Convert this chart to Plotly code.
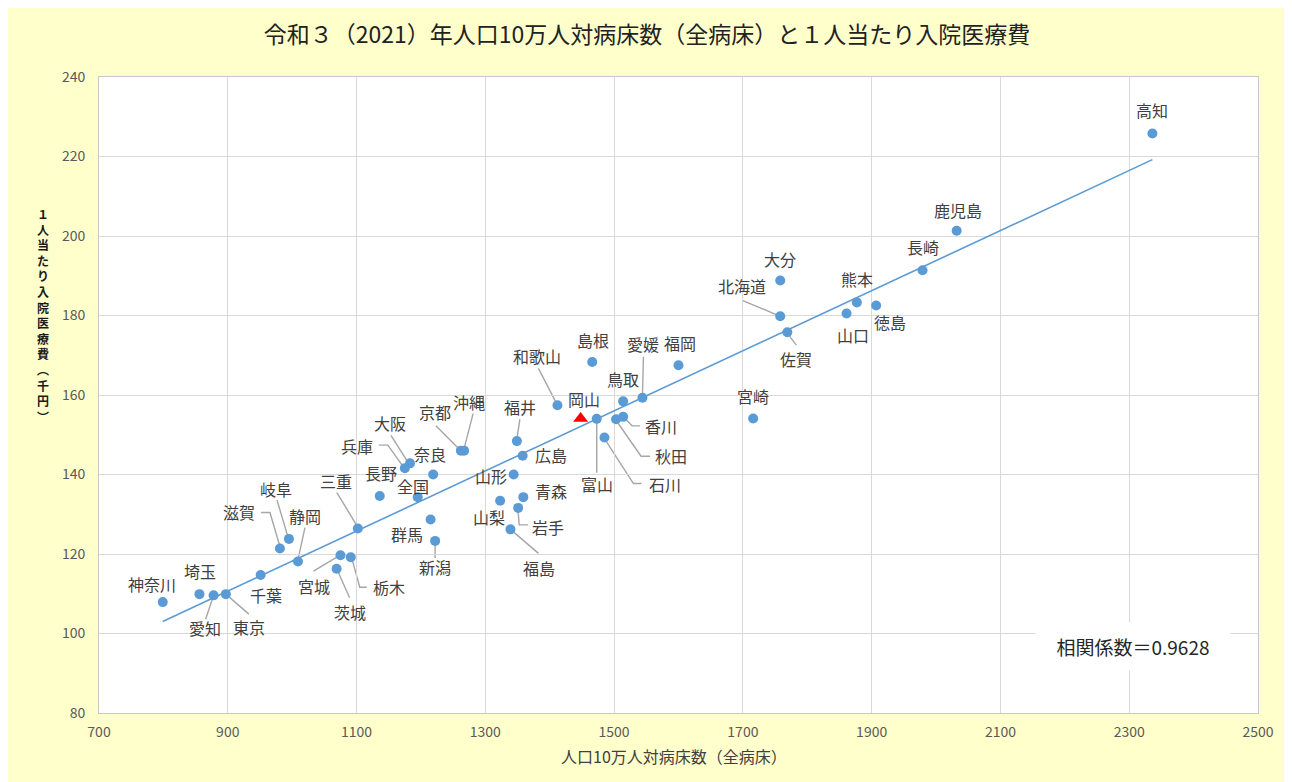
import numpy as np
import plotly.graph_objects as go

# ---------------- data ----------------
prefectures = ["北海道", "青森", "岩手", "宮城", "秋田", "山形", "福島", "茨城", "栃木", "群馬",
               "埼玉", "千葉", "東京", "神奈川", "新潟", "富山", "石川", "福井", "山梨", "長野",
               "岐阜", "静岡", "愛知", "三重", "滋賀", "京都", "大阪", "兵庫", "奈良", "和歌山",
               "鳥取", "島根", "岡山", "広島", "山口", "徳島", "香川", "愛媛", "高知", "福岡",
               "佐賀", "長崎", "熊本", "大分", "宮崎", "鹿児島", "沖縄"]
beds = [1758, 1359, 1351, 1075, 1503, 1344, 1339, 1069, 1091, 1215,
        856, 951, 897, 799, 1222, 1473, 1485, 1349, 1323, 1136,
        995, 1009, 878, 1102, 981, 1262, 1183, 1175, 1219, 1412,
        1514, 1466, 1448, 1358, 1861, 1907, 1514, 1544, 2336, 1600,
        1769, 1979, 1877, 1758, 1716, 2032, 1267]
cost = [179.8, 134.3, 131.6, 119.7, 153.9, 140.0, 126.2, 116.3, 119.2, 128.7,
        109.9, 114.7, 109.9, 107.9, 123.3, 154.0, 149.3, 148.4, 133.4, 134.6,
        123.8, 118.1, 109.6, 126.4, 121.4, 146.0, 142.8, 141.6, 140.0, 157.4,
        158.4, 168.3, 154.1, 144.7, 180.5, 182.5, 154.5, 159.3, 225.8, 167.5,
        175.8, 191.4, 183.3, 188.8, 154.1, 201.3, 146.0]
national_name = "全国"
national_beds = 1195
national_cost = 134.3
highlight = "岡山"
corr_text = "相関係数＝0.9628"

title_text = "令和３（2021）年人口10万人対病床数（全病床）と１人当たり入院医療費"
x_title = "人口10万人対病床数（全病床）"
y_title_chars = list("１人当たり入院医療費") + ["︵", "千", "円", "︶"]

x_range = [700, 2500]
y_range = [80, 240]

# ---------------- layout geometry ----------------
# target positions are given in page pixels; the page body adds an 8 px offset
OFF = 8
W, H = 1292, 782
PLOT_L, PLOT_R, PLOT_T, PLOT_B = 99, 1258, 77, 713   # page pixels
ML = PLOT_L - OFF
MT = PLOT_T - OFF
MR = W - (PLOT_R - OFF)
MB = H - (PLOT_B - OFF)
PW = PLOT_R - PLOT_L
PH = PLOT_B - PLOT_T
SX = PW / (x_range[1] - x_range[0])
SY = PH / (y_range[1] - y_range[0])


def px_to_paper(px, py):
    return (px - PLOT_L) / PW, (PLOT_B - py) / PH


# label offsets (px, screen coords: +x right, +y down) and leader paths
label_pos = {
    "神奈川": (-11, -18, None), "埼玉": (1, -23, None),
    "愛知": (-9, 33, [(-8, 24), (0, 0)]), "東京": (23, 33, [(23, 20), (0, 0)]),
    "千葉": (5, 20, None), "静岡": (7, -46, [(7, -34), (0, -2)]),
    "滋賀": (-41, -36, [(-19, -36), (-10, -36), (0, -2)]),
    "岐阜": (-13, -50, [(-12, -39), (-1, -2)]),
    "三重": (-22, -48, [(-21, -36), (-1, -3)]),
    "宮城": (-26, 31, [(-27, 16), (-2, 1)]),
    "栃木": (38, 30, [(16, 30), (9, 30), (1, 1)]),
    "茨城": (13, 43, [(13, 29), (1, 2)]),
    "長野": (1, -23, None), "群馬": (-24, 15, None),
    "新潟": (0, 26, [(0, 17), (0, 4)]), "奈良": (-3, -21, None),
    "兵庫": (-48, -22, [(-26, -23), (-17, -23), (-2, -2)]),
    "大阪": (-20, -40, [(-19, -28), (-2, -1)]),
    "京都": (-26, -39, [(-25, -25), (-1, -1)]),
    "沖縄": (5, -49, [(9, -37), (0, -2)]),
    "福井": (3, -34, [(3, -22), (0, -2)]),
    "広島": (28, -1, None), "山形": (-23, 1, None), "青森": (28, -6, None),
    "山梨": (-11, 16, None),
    "岩手": (30, 19, [(0, 4), (1, 17), (10, 17)]),
    "福島": (29, 39, [(28, 24), (0, 0)]),
    "和歌山": (-20, -49, [(-19, -37), (-1, -2)]),
    "島根": (1, -22, None), "岡山": (3, -19, None),
    "富山": (0, 65, [(0, 54), (0, 1)]), "鳥取": (0, -22, None),
    "愛媛": (1, -54, [(1, -41), (0, -1)]), "福岡": (1, -22, None),
    "香川": (38, 9, [(17, 9), (9, 9), (0, 0)]),
    "秋田": (55, 37, [(34, 37), (25, 37), (0, 1)]),
    "石川": (61, 46, [(37, 46), (29, 46), (0, 1)]),
    "大分": (0, -22, None), "北海道": (-38, -30, [(-38, -16), (0, 0)]),
    "佐賀": (9, 27, [(9, 13), (0, 1)]), "宮崎": (0, -22, None),
    "熊本": (0, -23, None), "山口": (6, 21, None), "徳島": (14, 16, None),
    "長崎": (0, -23, None), "鹿児島": (1, -21, None), "高知": (0, -23, None),
    "全国": (-5, -11, None),
}

FONT = "Noto Sans CJK JP"
BLUE = "#5B9BD5"

fig = go.Figure()

# trendline (least squares over prefectures)
bx = np.array(beds, dtype=float)
cy = np.array(cost, dtype=float)
slope, intercept = np.polyfit(bx, cy, 1)
tx = np.array([bx.min(), bx.max()])
fig.add_trace(go.Scatter(x=tx, y=slope * tx + intercept, mode="lines",
                         line=dict(color=BLUE, width=1.6), hoverinfo="skip",
                         showlegend=False))

# points
normal = [i for i, p in enumerate(prefectures) if p != highlight]
fig.add_trace(go.Scatter(
    x=[beds[i] for i in normal] + [national_beds],
    y=[cost[i] for i in normal] + [national_cost],
    mode="markers", marker=dict(color=BLUE, size=10),
    text=[prefectures[i] for i in normal] + [national_name],
    showlegend=False))
hi = prefectures.index(highlight)
fig.add_trace(go.Scatter(x=[beds[hi]], y=[cost[hi]], mode="markers",
                         marker=dict(color="#FF0000", size=13, symbol="triangle-up"),
                         text=[highlight], showlegend=False))

# labels and leader lines
all_names = prefectures + [national_name]
all_x = beds + [national_beds]
all_y = cost + [national_cost]
shapes = []
annotations = []
for name, x0, y0 in zip(all_names, all_x, all_y):
    dx, dy, leader = label_pos[name]
    annotations.append(dict(x=x0, y=y0, xref="x", yref="y", text=name, showarrow=False,
                            xshift=dx, yshift=-dy, xanchor="center", yanchor="middle",
                            font=dict(family=FONT, size=16, color="#404040")))
    if leader:
        pts = [(x0 + px / SX, y0 - py / SY) for px, py in leader]
        path = "M " + " L ".join(f"{a},{b}" for a, b in pts)
        shapes.append(dict(type="path", path=path, xref="x", yref="y", layer="below",
                           line=dict(color="#A6A6A6", width=1.4)))

# correlation box
cx, cyp = px_to_paper(1133, 646)
annotations.append(dict(x=cx, y=cyp, xref="paper", yref="paper",
                        text=corr_text, showarrow=False, xanchor="center", yanchor="middle",
                        width=194, height=47, bgcolor="#FFFFFF", borderpad=0,
                        font=dict(family=FONT, size=19, color="#262626")))

# x axis title
tx_, ty_ = px_to_paper(674, 756)
annotations.append(dict(x=tx_, y=ty_, xref="paper", yref="paper",
                        text=x_title, showarrow=False, xanchor="center", yanchor="middle",
                        font=dict(family=FONT, size=16, color="#404040")))

# y axis title, stacked vertically (upright characters)
yx, yy = px_to_paper(43, 315)
annotations.append(dict(x=yx, y=yy, xref="paper", yref="paper",
                        text="<b>" + "<br>".join(y_title_chars) + "</b>",
                        showarrow=False, xanchor="center", yanchor="middle",
                        font=dict(family=FONT, size=12, color="#1A1A1A")))

fig.update_layout(
    width=W, height=H,
    margin=dict(l=ML, r=MR, t=MT, b=MB),
    paper_bgcolor="#FFFFCC", plot_bgcolor="#FFFFFF",
    title=dict(text=title_text, x=(647 - OFF) / W, xanchor="center",
               y=1 - (35 - OFF) / H, yanchor="middle",
               font=dict(family=FONT, size=23, color="#222222")),
    xaxis=dict(range=x_range, tick0=700, dtick=200, showgrid=True, gridcolor="#D9D9D9",
               gridwidth=1, zeroline=False, showline=True, linecolor="#C8C8C8", mirror=True,
               tickfont=dict(family=FONT, size=14, color="#595959"), ticks="",
               ticklabelstandoff=6),
    yaxis=dict(range=y_range, tick0=80, dtick=20, showgrid=True, gridcolor="#D9D9D9",
               gridwidth=1, zeroline=False, showline=True, linecolor="#C8C8C8", mirror=True,
               tickfont=dict(family=FONT, size=14, color="#595959"), ticks="",
               ticklabelstandoff=10),
    shapes=shapes, annotations=annotations, showlegend=False,
)

fig.write_html("out.html")
